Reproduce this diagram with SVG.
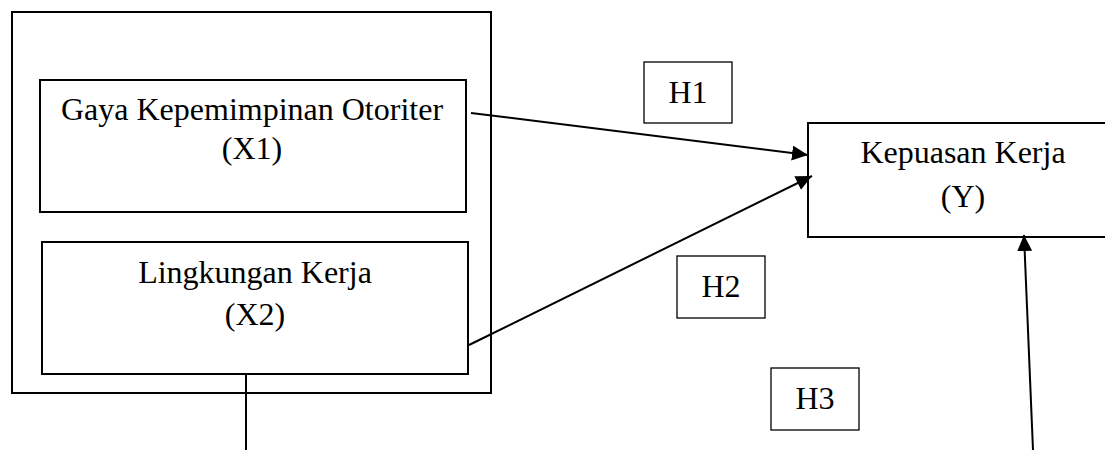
<svg xmlns="http://www.w3.org/2000/svg" width="1105" height="450" viewBox="0 0 1105 450">
<defs>
<style>
.box{fill:#fff;stroke:#000;stroke-width:2}
.hbox{fill:#fff;stroke:#000;stroke-width:1.3}
.t{font-family:"Liberation Serif","Times New Roman",serif;font-size:32px;fill:#000;text-anchor:middle}
.c{fill:none;stroke:#000;stroke-width:2}
</style>
<marker id="arr" markerUnits="userSpaceOnUse" markerWidth="17" markerHeight="16" refX="16" refY="7.5" orient="auto">
<path d="M0,0 L16,7.5 L0,15 z" fill="#000"/>
</marker>
</defs>
<rect width="1105" height="450" fill="#fff"/>
<g id="outer"><rect class="box" x="12" y="12" width="479" height="381"/></g>
<g id="x1"><rect class="box" x="40" y="80" width="426" height="132"/>
<text class="t" x="252" y="120">Gaya Kepemimpinan Otoriter</text>
<text class="t" x="252" y="159">(X1)</text></g>
<g id="x2"><rect class="box" x="42" y="242" width="426" height="132"/>
<text class="t" x="255" y="283">Lingkungan Kerja</text>
<text class="t" x="255" y="325">(X2)</text></g>
<g id="y"><rect class="box" x="808" y="123" width="310" height="114"/>
<text class="t" x="963" y="163">Kepuasan Kerja</text>
<text class="t" x="963" y="207">(Y)</text></g>
<g id="h1"><rect class="hbox" x="644" y="62" width="88" height="61"/>
<text class="t" x="688" y="103">H1</text></g>
<g id="h2"><rect class="hbox" x="677" y="256" width="88" height="62"/>
<text class="t" x="721" y="297">H2</text></g>
<g id="h3"><rect class="hbox" x="771" y="368" width="88" height="62"/>
<text class="t" x="815" y="409">H3</text></g>
<g id="connectors">
<line class="c" x1="471" y1="113" x2="808" y2="155" marker-end="url(#arr)"/>
<line class="c" x1="469" y1="345" x2="812" y2="176" marker-end="url(#arr)"/>
<line class="c" x1="246" y1="374" x2="246" y2="450"/>
<line class="c" x1="1033" y1="450" x2="1024" y2="235" marker-end="url(#arr)"/>
</g>
</svg>
